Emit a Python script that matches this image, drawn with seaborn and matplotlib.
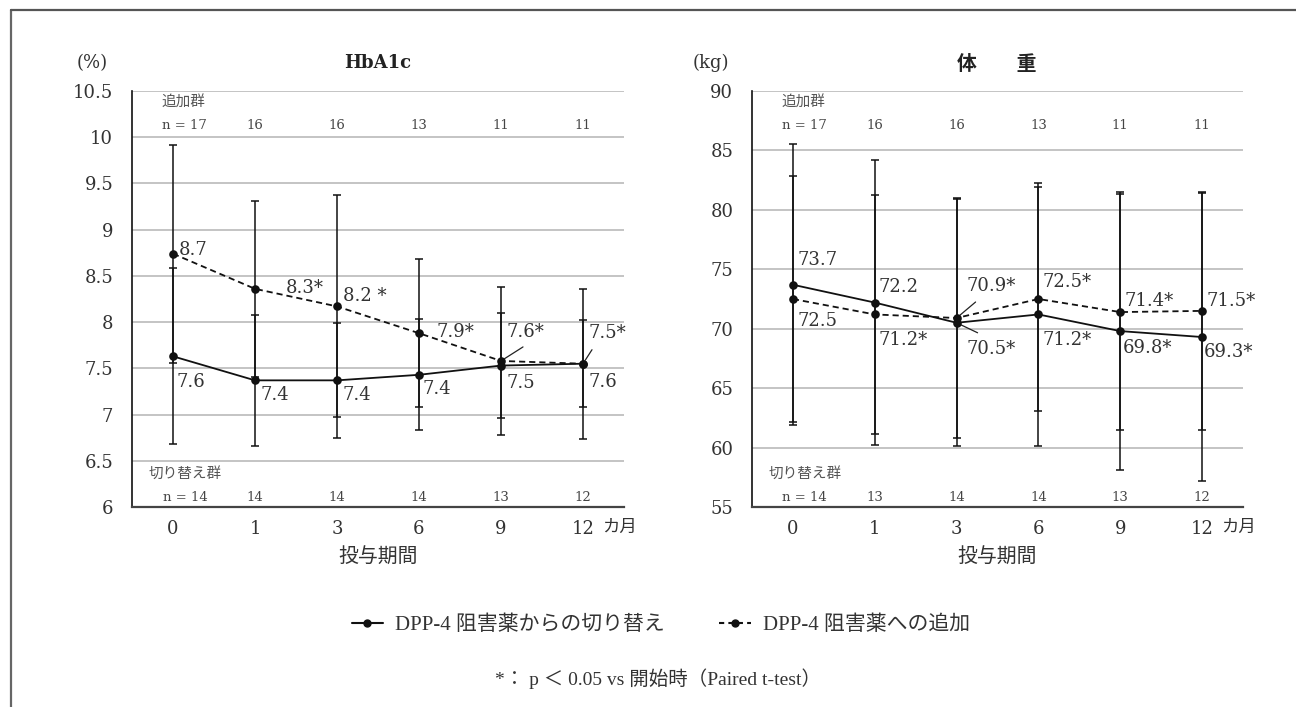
import numpy as np
import pandas as pd
import matplotlib
matplotlib.use("Agg")
import matplotlib.pyplot as plt
from matplotlib.lines import Line2D
import seaborn as sns

# ---------------- data ----------------
months = ["0", "1", "3", "6", "9", "12"]

hba1c_switch = [7.63, 7.37, 7.37, 7.43, 7.53, 7.55]
hba1c_switch_sd = [0.95, 0.71, 0.62, 0.60, 0.57, 0.47]
hba1c_switch_lbl = ["7.6", "7.4", "7.4", "7.4", "7.5", "7.6"]
hba1c_add = [8.74, 8.36, 8.17, 7.88, 7.58, 7.55]
hba1c_add_sd = [1.18, 0.95, 1.20, 0.80, 0.80, 0.81]
hba1c_add_lbl = ["8.7", "8.3*", "8.2 *", "7.9*", "7.6*", "7.5*"]

wt_switch = [73.7, 72.2, 70.5, 71.2, 69.8, 69.3]
wt_switch_sd = [11.8, 12.0, 10.4, 11.1, 11.7, 12.1]
wt_switch_lbl = ["73.7", "72.2", "70.5*", "71.2*", "69.8*", "69.3*"]
wt_add = [72.5, 71.2, 70.9, 72.5, 71.4, 71.5]
wt_add_sd = [10.35, 10.05, 10.1, 9.4, 9.95, 10.0]
wt_add_lbl = ["72.5", "71.2*", "70.9*", "72.5*", "71.4*", "71.5*"]

n_add = ["n = 17", "16", "16", "13", "11", "11"]
n_switch_hba1c = ["n = 14", "14", "14", "14", "13", "12"]
n_switch_wt = ["n = 14", "13", "14", "14", "13", "12"]

label_switch = "DPP-4 阻害薬からの切り替え"
label_add = "DPP-4 阻害薬への追加"

# ---------------- style ----------------
sns.set_theme(style="white")
plt.rcParams["font.family"] = ["DejaVu Serif", "Noto Sans CJK JP"]
plt.rcParams["axes.unicode_minus"] = False
CJK = ["Noto Sans CJK JP"]
LAT_CJK = ["Liberation Serif", "Noto Sans CJK JP"]

W, H = 1296, 707
fig = plt.figure(figsize=(W / 100, H / 100), dpi=100)

def px_ax(l, t, r, b):
    return fig.add_axes([l / W, 1 - b / H, (r - l) / W, (b - t) / H])

ax1 = px_ax(132, 91, 624, 507)
ax2 = px_ax(752, 91, 1243, 507)

TXT = "#333333"
NUMFS = 13

def draw(ax, sw, sw_sd, sw_lbl, ad, ad_sd, ad_lbl, ylim, yticks,
         sw_off, ad_off, n_bottom, leaders):
    pos = np.arange(len(months))
    df = pd.DataFrame({"pos": pos, "switch": sw, "add": ad})
    ax.errorbar(pos, ad, yerr=ad_sd, fmt="none", ecolor="#111111",
                elinewidth=1.1, capsize=2.6, capthick=1.1, zorder=3)
    ax.errorbar(pos, sw, yerr=sw_sd, fmt="none", ecolor="#111111",
                elinewidth=1.1, capsize=2.6, capthick=1.1, zorder=3)
    sns.lineplot(data=df, x="pos", y="add", ax=ax, color="#111111",
                 marker="o", markersize=6.2, markeredgewidth=0, linewidth=1.3,
                 linestyle=(0, (3.4, 2.2)), zorder=4)
    sns.lineplot(data=df, x="pos", y="switch", ax=ax, color="#111111",
                 marker="o", markersize=6.2, markeredgewidth=0, linewidth=1.3,
                 zorder=4)
    ax.set_xlim(-0.5, len(months) - 0.5)
    ax.set_ylim(*ylim)
    ax.set_yticks(yticks)
    ax.set_yticklabels([f"{v:g}" for v in yticks], fontsize=NUMFS, color=TXT)
    ax.set_xticks(pos)
    ax.set_xticklabels(months, fontsize=NUMFS, color=TXT)
    ax.tick_params(axis="x", length=0, pad=9)
    ax.tick_params(axis="y", length=0, pad=13.5)
    ax.set_xlabel("")
    ax.set_ylabel("")
    ax.grid(axis="y", color="#b4b4b4", linewidth=1.1)
    ax.grid(axis="x", visible=False)
    for s in ["top", "right"]:
        ax.spines[s].set_visible(False)
    ax.spines["left"].set_color("#111111")
    ax.spines["left"].set_linewidth(1.2)
    ax.spines["bottom"].set_color("#444444")
    ax.spines["bottom"].set_linewidth(1.6)
    ax.set_facecolor("white")

    # value labels
    for i in range(len(months)):
        dx, dy = sw_off[i]
        ax.annotate(sw_lbl[i], (pos[i], sw[i]), xytext=(dx, dy),
                    textcoords="offset pixels", ha="left", va="center",
                    fontsize=NUMFS, color=TXT, zorder=6)
        dx, dy = ad_off[i]
        ax.annotate(ad_lbl[i], (pos[i], ad[i]), xytext=(dx, dy),
                    textcoords="offset pixels", ha="left", va="center",
                    fontsize=NUMFS, color=TXT, zorder=6)
    # leader lines
    for (i, series, (x1, y1)) in leaders:
        vals = sw if series == "s" else ad
        ax.annotate("", (pos[i], vals[i]), xytext=(x1, y1),
                    textcoords="offset pixels",
                    arrowprops=dict(arrowstyle="-", color="#222222", lw=0.9,
                                    shrinkA=0, shrinkB=3))

    # n labels
    tr = ax.get_xaxis_transform()
    ax.text(-0.135, 0.974, "追加群", transform=tr, fontsize=10.5, color="#555555",
            ha="left", va="center", family=CJK)
    ax.text(-0.30, 0.079, "切り替え群", transform=tr, fontsize=10.5,
            color="#555555", ha="left", va="center", family=CJK)
    for i in range(len(months)):
        xx = 0.145 if i == 0 else pos[i]
        ax.text(xx, 0.916, n_add[i], transform=tr, fontsize=9.5, color="#444444",
                ha="center", va="center")
        ax.text(xx, 0.024, n_bottom[i], transform=tr, fontsize=9.5,
                color="#444444", ha="center", va="center")
    # unit after last tick
    ax.text(5.23, -0.047, "カ月", transform=tr, fontsize=12.5, color=TXT,
            ha="left", va="center", family=CJK)
    ax.text(0.5, -0.12, "投与期間", transform=ax.transAxes, fontsize=14.3,
            color=TXT, ha="center", va="center", family=CJK)

# HbA1c panel
draw(ax1, hba1c_switch, hba1c_switch_sd, hba1c_switch_lbl,
     hba1c_add, hba1c_add_sd, hba1c_add_lbl,
     (6, 10.5), np.arange(6, 10.51, 0.5),
     sw_off=[(4, -26), (5, -15), (6, -15), (4, -14), (5, -17), (5, -18)],
     ad_off=[(6, 4), (31, 1), (6, 10), (18, 1), (5, 29), (5, 31)],
     n_bottom=n_switch_hba1c,
     leaders=[(4, "a", (22, 14)), (5, "a", (9, 14))])

# Weight panel
draw(ax2, wt_switch, wt_switch_sd, wt_switch_lbl,
     wt_add, wt_add_sd, wt_add_lbl,
     (55, 90), np.arange(55, 90.1, 5),
     sw_off=[(5, 25), (4, 16), (10, -26), (4, -26), (2, -17), (2, -15)],
     ad_off=[(5, -22), (4, -26), (10, 32), (4, 17), (4, 11), (4, 10)],
     n_bottom=n_switch_wt,
     leaders=[(2, "s", (21, -10)), (2, "a", (19, 16))])

# titles and units
fig.text(378 / W, 1 - 63 / H, "HbA1c", fontsize=13, fontweight="bold",
         ha="center", va="center", color="#222222")
fig.text(997 / W, 1 - 63 / H, "体　　重", fontsize=14.3, fontweight="bold",
         ha="center", va="center", color="#222222", family=CJK)
fig.text(92 / W, 1 - 63 / H, "(%)", fontsize=13, ha="center", va="center",
         color=TXT)
fig.text(711 / W, 1 - 63 / H, "(kg)", fontsize=13, ha="center", va="center",
         color=TXT)

# legend
handles = [
    Line2D([], [], color="#111111", marker="o", markersize=5, linewidth=1.5,
           linestyle="-"),
    Line2D([], [], color="#111111", marker="o", markersize=5, linewidth=1.5,
           linestyle=(0, (2.5, 2))),
]
leg = fig.legend(handles, [label_switch, label_add], loc="center",
                 bbox_to_anchor=(661 / W, 1 - 625 / H), ncol=2, frameon=False,
                 prop={"family": LAT_CJK, "size": 15},
                 handlelength=1.5, handletextpad=0.6, columnspacing=2.6)
for t in leg.get_texts():
    t.set_color(TXT)

fig.text(658 / W, 1 - 679 / H, "*： p ＜ 0.05 vs 開始時（Paired t-test）",
         fontsize=14, ha="center", va="center", color=TXT, family=LAT_CJK)

# outer frame (top and left)
fig.add_artist(Line2D([11 / W, 11 / W], [0, 1 - 10 / H], transform=fig.transFigure,
                      color="#666666", linewidth=1.6))
fig.add_artist(Line2D([11 / W, 1], [1 - 10 / H, 1 - 10 / H],
                      transform=fig.transFigure, color="#555555", linewidth=1.6))

fig.savefig("out.png", dpi=100, facecolor="white")
